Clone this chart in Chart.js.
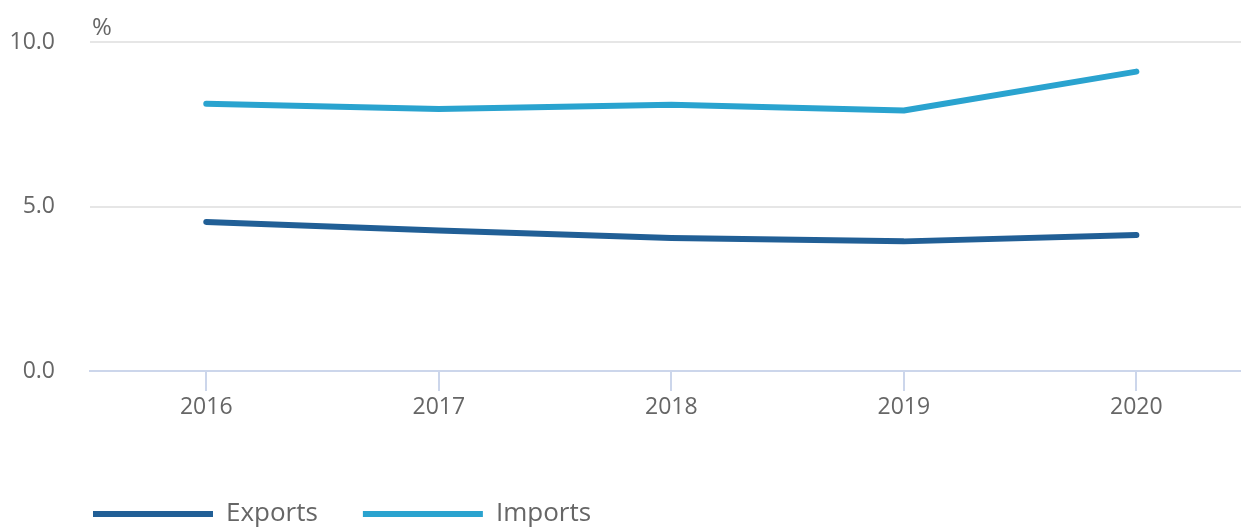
<!DOCTYPE html>
<html>
<head>
<meta charset="utf-8">
<script src="https://cdn.jsdelivr.net/npm/chart.js@4"></script>
<style>
  html, body { margin: 0; padding: 0; background: #fff; }
  #wrap { width: 1241px; height: 529px; position: relative; }
</style>
</head>
<body>
<div id="wrap"><canvas id="tradeChart"></canvas></div>
<script>
// Exports / imports share (%) by year
const years = [2016, 2017, 2018, 2019, 2020];
const exportsPct = [4.53, 4.27, 4.04, 3.94, 4.13];
const importsPct = [8.12, 7.96, 8.09, 7.92, 9.10];
const yTicks = [0, 5, 10];
const unitLabel = '%';

const FONT = "'Open Sans', 'Noto Sans', sans-serif";
const TEXT_GREY = '#666666';

const toPoints = vals => years.map((yr, i) => ({ x: yr, y: vals[i] }));

// small "%" caption above the y axis + legend placement tweak
const unitPlugin = {
  id: 'unitLabel',
  afterLayout(chart) {
    chart.legend.left = 48;
    chart.legend.top = 456;
  },
  afterDraw(chart) {
    const { ctx, chartArea } = chart;
    ctx.save();
    ctx.font = `24px ${FONT}`;
    ctx.fillStyle = TEXT_GREY;
    ctx.textAlign = 'left';
    ctx.textBaseline = 'alphabetic';
    ctx.fillText(unitLabel, chartArea.left + 2, chartArea.top - 7);
    ctx.restore();
  }
};

const ctx = document.getElementById('tradeChart').getContext('2d');
new Chart(ctx, {
  type: 'line',
  data: {
    datasets: [
      {
        label: 'Exports',
        data: toPoints(exportsPct),
        borderColor: '#215f96',
        backgroundColor: '#215f96',
        borderWidth: 6,
        borderCapStyle: 'round',
        borderJoinStyle: 'round',
        pointRadius: 0,
        tension: 0
      },
      {
        label: 'Imports',
        data: toPoints(importsPct),
        borderColor: '#2aa3cf',
        backgroundColor: '#2aa3cf',
        borderWidth: 6,
        borderCapStyle: 'round',
        borderJoinStyle: 'round',
        pointRadius: 0,
        tension: 0
      }
    ]
  },
  options: {
    responsive: true,
    maintainAspectRatio: false,
    animation: false,
    layout: { padding: { top: 42, right: 0, bottom: 0, left: 0 } },
    plugins: {
      legend: {
        display: true,
        position: 'bottom',
        align: 'start',
        labels: {
          boxWidth: 120,
          boxHeight: 6,
          padding: 45,
          color: TEXT_GREY,
          font: { family: FONT, size: 26 },
          generateLabels(chart) {
            const items = Chart.defaults.plugins.legend.labels.generateLabels(chart);
            items.forEach(it => { it.lineWidth = 0; });
            return items;
          }
        }
      },
      tooltip: { enabled: false }
    },
    scales: {
      x: {
        type: 'linear',
        min: 2015.5,
        max: 2020.45,
        afterBuildTicks(scale) { scale.ticks = years.map(v => ({ value: v })); },
        grid: {
          drawOnChartArea: false,
          drawTicks: true,
          tickLength: 20,
          color: '#ccd6eb',
          lineWidth: 2
        },
        border: { display: true, color: '#ccd6eb', width: 2 },
        ticks: {
          color: TEXT_GREY,
          padding: 3,
          maxRotation: 0,
          font: { family: FONT, size: 23 },
          callback: v => String(v)
        },
        afterFit(scale) { scale.height = 77; }
      },
      y: {
        min: 0,
        max: 10,
        afterBuildTicks(scale) { scale.ticks = yTicks.map(v => ({ value: v })); },
        grid: {
          color: '#e6e6e6',
          lineWidth: 2,
          drawTicks: true,
          tickLength: 32,
          tickColor: 'rgba(0,0,0,0)'
        },
        border: { display: false },
        ticks: {
          color: TEXT_GREY,
          padding: 3,
          font: { family: FONT, size: 23 },
          callback: v => Number(v).toFixed(1)
        },
        afterFit(scale) { scale.width = 90; }
      }
    }
  },
  plugins: [unitPlugin]
});
</script>
</body>
</html>
